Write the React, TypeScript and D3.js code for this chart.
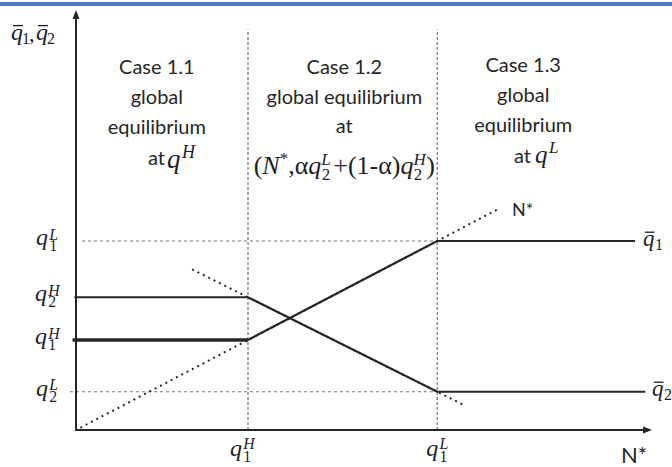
import React from "react";
import * as d3 from "d3";

const W = 672;
const H = 467;

// Threshold values (same units on both axes)
const Q1_H = 2.0;
const Q1_L = 4.2;
const Q2_H = 2.95;
const Q2_L = 0.85;

// q̄1(N*) breakpoints: flat at q1H, rising along N*, flat at q1L
const Q1_BAR_N = [2.0, 4.2, 6.5];
const Q1_BAR_Q = [2.0, 4.2, 4.2];
// heavy initial segment of q̄1
const Q1_THICK_N = [-0.04, 2.0];
const Q1_THICK_Q = [2.0, 2.0];
// q̄2(N*) breakpoints: flat at q2H, falling, flat at q2L
const Q2_BAR_N = [-0.02, 2.0, 4.2, 6.62];
const Q2_BAR_Q = [2.95, 2.95, 0.85, 0.85];
// 45° line q = N*
const DIAG_N = [0.05, 4.93];
const DIAG_Q = [0.05, 4.93];
// dotted extension of the falling part of q̄2
const Q2_EXT_N = [1.35, 4.52];
const Q2_EXT_Q = [3.57, 0.545];

// case annotations
const CASES = [
  { n: 0.94, lines: ["Case 1.1", "global", "equilibrium"], baselines: [74, 104, 134] },
  { n: 3.12, lines: ["Case 1.2", "global equilibrium", "at"], baselines: [74, 104, 133] },
  { n: 5.2, lines: ["Case 1.3", "global", "equilibrium"], baselines: [72, 102, 132] },
];

const x = d3.scaleLinear().domain([0, 6.6]).range([76, 643.6]);
const y = d3.scaleLinear().domain([0, 9]).range([430, 25]);

const line = d3
  .line<[number, number]>()
  .x((d) => x(d[0]))
  .y((d) => y(d[1]));

const zip = (a: number[], b: number[]) => a.map((v, i) => [v, b[i]] as [number, number]);

const INK = "#262626";
const MATH = "#1e1e2c";
const SERIF = "'Liberation Serif', 'DejaVu Serif', serif";
const SANS = "Lato, 'Open Sans', sans-serif";

type QProps = {
  x: number;
  y: number;
  sup?: string;
  sub?: string;
  size?: number;
  bar?: boolean;
  supDy?: number;
  subDy?: number;
  scriptDx?: number;
  scriptSize?: number;
};

function Q({ x: px, y: py, sup, sub, size = 24, bar = false, supDy, subDy, scriptDx, scriptSize }: QProps) {
  const sx = px + (scriptDx ?? size * 0.55);
  const ss = scriptSize ?? size * 0.66;
  return (
    <g fill={MATH} fontFamily={SERIF}>
      <text x={px} y={py} fontSize={size} fontStyle="italic">
        q
      </text>
      {bar && (
        <line
          x1={px + size * 0.08}
          x2={px + size * 0.5}
          y1={py - size * 0.6}
          y2={py - size * 0.6}
          stroke={MATH}
          strokeWidth={1.3}
        />
      )}
      {sup && (
        <text x={sx} y={py - (supDy ?? size * 0.22)} fontSize={ss} fontStyle="italic">
          {sup}
        </text>
      )}
      {sub && (
        <text x={sx} y={py + (subDy ?? size * 0.26)} fontSize={ss}>
          {sub}
        </text>
      )}
    </g>
  );
}

export default function App() {
  const vDash = [Q1_H, Q1_L];
  return (
    <svg
      width={W}
      height={H}
      style={{ position: "absolute", left: 0, top: 0, background: "#fff" }}
    >
      <rect x={0} y={2} width={W} height={4} fill="#4a7ebb" />

      {/* vertical regime boundaries */}
      {vDash.map((n) => (
        <line
          key={n}
          x1={x(n)}
          x2={x(n)}
          y1={y(0)}
          y2={y(8.9)}
          stroke="#555"
          strokeWidth={1}
          strokeDasharray="3 2"
        />
      ))}

      {/* horizontal reference levels */}
      <line x1={x(0.07)} x2={x(Q1_L)} y1={y(Q1_L)} y2={y(Q1_L)} stroke="#777" strokeDasharray="3 3" />
      <line x1={x(-0.07)} x2={x(Q1_L)} y1={y(Q2_L)} y2={y(Q2_L)} stroke="#777" strokeDasharray="3 3" />

      {/* dotted guide lines */}
      <path
        d={line(zip(DIAG_N, DIAG_Q)) ?? ""}
        fill="none"
        stroke="#2a2a2a"
        strokeWidth={2}
        strokeDasharray="2 4"
      />
      <path
        d={line(zip(Q2_EXT_N, Q2_EXT_Q)) ?? ""}
        fill="none"
        stroke="#2a2a2a"
        strokeWidth={2}
        strokeDasharray="2 4"
      />

      {/* q̄2 */}
      <path d={line(zip(Q2_BAR_N, Q2_BAR_Q)) ?? ""} fill="none" stroke={INK} strokeWidth={2.2} />
      {/* q̄1 */}
      <path d={line(zip(Q1_THICK_N, Q1_THICK_Q)) ?? ""} fill="none" stroke={INK} strokeWidth={3.6} />
      <path d={line(zip(Q1_BAR_N, Q1_BAR_Q)) ?? ""} fill="none" stroke={INK} strokeWidth={2.2} />

      {/* axes */}
      <line x1={x(0)} x2={x(0)} y1={y(0) + 1} y2={16} stroke={INK} strokeWidth={2} />
      <path d={`M${x(0)},10 L${x(0) - 3.5},19 L${x(0) + 3.5},19 Z`} fill={INK} />
      <line x1={x(0) - 1} x2={645} y1={y(0)} y2={y(0)} stroke={INK} strokeWidth={2} />
      <path d={`M652,${y(0)} L643,${y(0) - 3.5} L643,${y(0) + 3.5} Z`} fill={INK} />

      {/* y-axis title */}
      <Q x={11} y={40} size={24} bar sub="1" scriptDx={11} subDy={4} scriptSize={16} />
      <text x={29} y={41} fontSize={22} fontFamily={SERIF} fill={MATH}>
        ,
      </text>
      <Q x={36} y={40} size={24} bar sub="2" scriptDx={11} subDy={4} scriptSize={16} />

      {/* y tick labels */}
      <Q x={36} y={y(Q1_L) + 4} sup="L" sub="1" />
      <Q x={35} y={y(Q2_H) + 4} sup="H" sub="2" />
      <Q x={35} y={y(Q1_H) + 4} sup="H" sub="1" />
      <Q x={36} y={y(Q2_L) + 4} sup="L" sub="2" />

      {/* x tick labels */}
      <Q x={x(Q1_H) - 18} y={456} sup="H" sub="1" supDy={7} subDy={6} />
      <Q x={x(Q1_L) - 11} y={456} sup="L" sub="1" supDy={7} subDy={6} />

      {/* curve labels */}
      <Q x={643} y={246} size={23} bar sub="1" scriptDx={12} subDy={4} scriptSize={16} />
      <Q x={652} y={396} size={23} bar sub="2" scriptDx={12} subDy={4} scriptSize={16} />

      {/* N* labels */}
      <text x={512} y={216} fontSize={18} fontFamily={SANS} fill={INK}>
        N*
      </text>
      <text x={621} y={463} fontSize={22} fontFamily={SANS} fill={INK}>
        N*
      </text>

      {/* case annotations */}
      {CASES.map((c) => (
        <g key={c.lines[0]} fontFamily={SANS} fontSize={20} fill={INK} textAnchor="middle">
          {c.lines.map((t, i) => (
            <text key={t} x={x(c.n)} y={c.baselines[i]}>
              {t}
            </text>
          ))}
        </g>
      ))}

      {/* last lines of the case annotations */}
      <text x={148} y={165} fontFamily={SANS} fontSize={20} fill={INK}>
        at
      </text>
      <Q x={167} y={168} size={27} sup="H" supDy={10} scriptDx={15} scriptSize={18} />

      <text x={514} y={163} fontFamily={SANS} fontSize={20} fill={INK}>
        at
      </text>
      <Q x={535} y={163} size={25} sup="L" supDy={10} scriptDx={14} scriptSize={17} />

      <text
        x={x(3.12)}
        y={174}
        fontFamily={SERIF}
        fontSize={26}
        fill={MATH}
        textAnchor="middle"
      >
        <tspan>(</tspan>
        <tspan fontStyle="italic">N</tspan>
        <tspan fontSize={17} dy={-10}>*</tspan>
        <tspan dy={10}>,α</tspan>
        <tspan fontStyle="italic">q</tspan>
        <tspan fontStyle="italic" fontSize={17} dy={-9}>L</tspan>
        <tspan fontSize={17} dx={-9} dy={15}>2</tspan>
        <tspan dy={-6} dx={3}>+(1-α)</tspan>
        <tspan fontStyle="italic">q</tspan>
        <tspan fontStyle="italic" fontSize={17} dy={-9}>H</tspan>
        <tspan fontSize={17} dx={-12} dy={15}>2</tspan>
        <tspan dy={-6} dx={4}>)</tspan>
      </text>
    </svg>
  );
}
